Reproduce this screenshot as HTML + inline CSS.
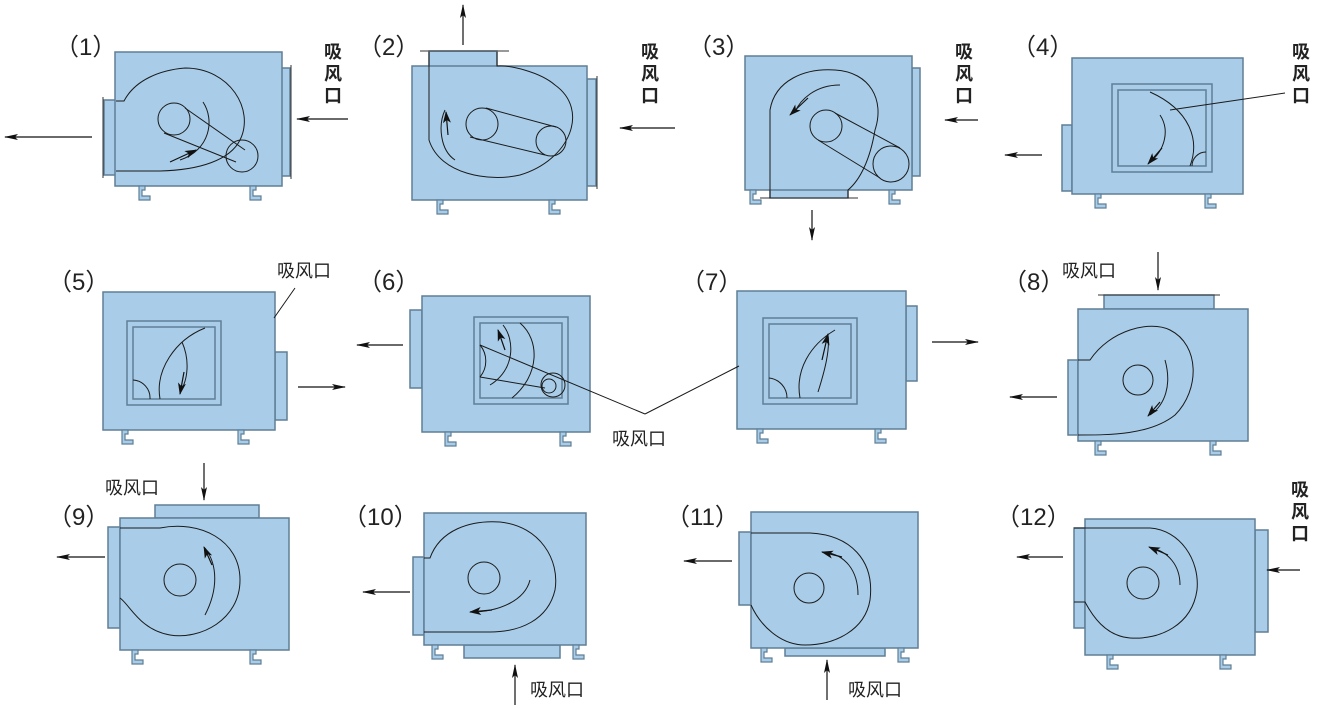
<!DOCTYPE html>
<html><head><meta charset="utf-8"><style>
html,body{margin:0;padding:0;background:#fff;width:1327px;height:709px;overflow:hidden}
svg{display:block}
.b{fill:#a9cde8;stroke:#5f7f96;stroke-width:1.5}
.l{fill:none;stroke:#1a1a1a;stroke-width:1}
.a{stroke:#111;stroke-width:1.2;fill:none;marker-end:url(#ah)}
.t{font-family:"Liberation Sans","Noto Sans CJK SC",sans-serif;font-size:24px;fill:#222}
.c{font-family:"Noto Sans CJK SC","WenQuanYi Zen Hei",sans-serif;font-size:18px;fill:#222;font-weight:bold}
.h{font-family:"Noto Sans CJK SC","WenQuanYi Zen Hei",sans-serif;font-size:18px;fill:#222}
</style></head><body>
<svg width="1327" height="709" viewBox="0 0 1327 709">
<defs>
<marker id="ah" markerWidth="14" markerHeight="8" refX="13" refY="4" orient="auto" markerUnits="userSpaceOnUse"><path d="M0,1 L14,4 L0,7 L3,4z" fill="#111"/></marker>
<marker id="sh" markerWidth="12" markerHeight="8" refX="11" refY="4" orient="auto" markerUnits="userSpaceOnUse"><path d="M0,0 L12,4 L0,8 L3,4z" fill="#111"/></marker>
<path id="ft" d="M0,0 h6 v4 h-3 v6 h8 v4 h-11z" fill="#a9cde8" stroke="#5f7f96" stroke-width="1.2"/>
</defs>

<!-- 1 -->
<text class="t" x="55" y="55">（1）</text>
<rect class="b" x="104" y="100" width="12" height="75"/><line x1="103" y1="97" x2="103" y2="178" stroke="#333"/>
<rect class="b" x="281" y="68" width="9" height="108"/><line x1="291" y1="65" x2="291" y2="179" stroke="#333"/>
<rect class="b" x="115" y="52" width="167" height="134"/>
<path class="l" d="M116,101 H124 C135,80 160,70 185,68 C230,68 255,110 240,140 C230,160 200,170 160,171 H116"/>
<path class="l" d="M203,102 C215,120 210,150 180,160" />
<line x1="170" y1="162" x2="196" y2="150" stroke="#111" stroke-width="1.2" marker-end="url(#sh)"/>
<circle class="l" cx="174" cy="119" r="16"/><circle class="l" cx="242" cy="156" r="16"/>
<line class="l" x1="185" y1="108" x2="245" y2="150"/><line class="l" x1="164" y1="133" x2="236" y2="162"/>
<use href="#ft" x="139" y="186"/><use href="#ft" x="250" y="186"/>
<line class="a" x1="92" y1="137" x2="5" y2="137"/>
<line class="a" x1="348" y1="119" x2="297" y2="119"/>
<text class="c" x="324" y="58">吸</text><text class="c" x="324" y="80">风</text><text class="c" x="324" y="102">口</text>

<!-- 2 -->
<text class="t" x="358" y="55">（2）</text>
<rect class="b" x="429" y="51" width="68" height="16"/><line x1="420" y1="51" x2="509" y2="51" stroke="#333"/>
<rect class="b" x="587" y="79" width="9" height="107"/><line x1="597" y1="76" x2="597" y2="189" stroke="#333"/>
<rect class="b" x="412" y="66" width="175" height="134"/>
<path class="l" d="M429,52 V140 C440,175 490,182 520,175 C570,160 590,110 555,85 C540,72 510,65 497,66 V52"/>
<path class="l" d="M455,160 C440,150 438,125 445,110"/>
<line x1="448" y1="135" x2="446" y2="112" stroke="#111" stroke-width="1.2" marker-end="url(#sh)"/>
<circle class="l" cx="482" cy="124" r="16"/><circle class="l" cx="551" cy="141" r="15"/>
<line class="l" x1="486" y1="108" x2="556" y2="127"/><line class="l" x1="470" y1="137" x2="545" y2="155"/>
<use href="#ft" x="437" y="200"/><use href="#ft" x="549" y="200"/>
<line class="a" x1="463" y1="45" x2="463" y2="5"/>
<line class="a" x1="675" y1="128" x2="620" y2="128"/>
<text class="c" x="641" y="58">吸</text><text class="c" x="641" y="80">风</text><text class="c" x="641" y="102">口</text>

<!-- 3 -->
<text class="t" x="688" y="55">（3）</text>
<rect class="b" x="770" y="189" width="78" height="9"/><line x1="760" y1="198" x2="858" y2="198" stroke="#333"/>
<rect class="b" x="912" y="68" width="8" height="108"/>
<rect class="b" x="745" y="56" width="167" height="134"/>
<path class="l" d="M770,198 V110 C775,80 805,68 835,70 C870,72 885,100 875,130 C870,160 860,180 848,190 V198"/>
<path class="l" d="M840,85 C815,85 800,100 795,112"/>
<line x1="808" y1="98" x2="790" y2="115" stroke="#111" stroke-width="1.2" marker-end="url(#sh)"/>
<circle class="l" cx="826" cy="126" r="16"/><circle class="l" cx="891" cy="164" r="18"/>
<line class="l" x1="835" y1="113" x2="900" y2="148"/><line class="l" x1="818" y1="140" x2="880" y2="178"/>
<use href="#ft" x="750" y="190"/><use href="#ft" x="889" y="190"/>
<line class="a" x1="812" y1="210" x2="812" y2="240"/>
<line class="a" x1="978" y1="120" x2="945" y2="120"/>
<text class="c" x="955" y="58">吸</text><text class="c" x="955" y="80">风</text><text class="c" x="955" y="102">口</text>

<!-- 4 -->
<text class="t" x="1012" y="55">（4）</text>
<rect class="b" x="1062" y="125" width="10" height="66"/>
<rect class="b" x="1072" y="58" width="171" height="136"/>
<rect class="b" x="1112" y="84" width="100" height="88"/><rect class="b" x="1118" y="90" width="88" height="76"/>
<path class="l" d="M1150,92 C1190,110 1200,140 1190,166"/><path class="l" d="M1160,115 C1170,130 1165,150 1150,162"/>
<line x1="1162" y1="148" x2="1148" y2="164" stroke="#111" stroke-width="1.2" marker-end="url(#sh)"/>
<path class="l" d="M1192,166 A14,14 0 0 1 1206,152"/>
<line class="l" x1="1285" y1="93" x2="1170" y2="110"/>
<use href="#ft" x="1095" y="194"/><use href="#ft" x="1205" y="194"/>
<line class="a" x1="1042" y1="155" x2="1005" y2="155"/>
<text class="c" x="1292" y="58">吸</text><text class="c" x="1292" y="80">风</text><text class="c" x="1292" y="102">口</text>

<!-- 5 -->
<text class="t" x="48" y="290">（5）</text>
<rect class="b" x="275" y="352" width="12" height="68"/>
<rect class="b" x="103" y="292" width="172" height="138"/>
<rect class="b" x="127" y="321" width="94" height="84"/><rect class="b" x="133" y="327" width="82" height="72"/>
<path class="l" d="M160,399 C155,370 175,340 205,328"/><path class="l" d="M182,342 C190,360 188,380 180,392"/>
<line x1="184" y1="372" x2="180" y2="394" stroke="#111" stroke-width="1.2" marker-end="url(#sh)"/>
<path class="l" d="M133,380 A18,18 0 0 1 150,399"/>
<line class="l" x1="295" y1="288" x2="274" y2="318"/>
<use href="#ft" x="122" y="430"/><use href="#ft" x="238" y="430"/>
<line class="a" x1="298" y1="387" x2="345" y2="387"/>
<text class="h" x="277" y="277">吸风口</text>

<!-- 6 -->
<text class="t" x="358" y="290">（6）</text>
<rect class="b" x="410" y="310" width="12" height="78"/>
<rect class="b" x="422" y="296" width="168" height="136"/>
<rect class="b" x="474" y="317" width="94" height="87"/><rect class="b" x="480" y="323" width="82" height="75"/>
<path class="l" d="M480,345 A25,25 0 0 1 480,377"/><path class="l" d="M490,385 C515,370 515,340 503,325"/><path class="l" d="M512,398 C540,375 540,340 520,323"/>
<line x1="505" y1="350" x2="498" y2="330" stroke="#111" stroke-width="1.2" marker-end="url(#sh)"/>
<circle class="l" cx="549" cy="386" r="7"/><circle class="l" cx="553" cy="385" r="12"/>
<line class="l" x1="480" y1="345" x2="645" y2="414"/><line class="l" x1="480" y1="377" x2="545" y2="388"/>
<use href="#ft" x="445" y="432"/><use href="#ft" x="560" y="432"/>
<line class="a" x1="403" y1="345" x2="357" y2="345"/>
<text class="h" x="612" y="445">吸风口</text>

<!-- 7 -->
<text class="t" x="681" y="290">（7）</text>
<rect class="b" x="906" y="306" width="11" height="75"/>
<rect class="b" x="737" y="291" width="169" height="138"/>
<rect class="b" x="763" y="318" width="94" height="86"/><rect class="b" x="769" y="324" width="82" height="74"/>
<path class="l" d="M800,398 C795,370 810,345 835,330"/><path class="l" d="M818,392 C825,370 830,350 828,335"/>
<line x1="822" y1="360" x2="828" y2="334" stroke="#111" stroke-width="1.2" marker-end="url(#sh)"/>
<path class="l" d="M769,378 A20,20 0 0 1 787,398"/>
<line class="l" x1="645" y1="414" x2="739" y2="366"/>
<use href="#ft" x="757" y="429"/><use href="#ft" x="875" y="429"/>
<line class="a" x1="932" y1="342" x2="978" y2="342"/>

<!-- 8 -->
<text class="t" x="1003" y="290">（8）</text>
<rect class="b" x="1104" y="295" width="110" height="14"/><line x1="1098" y1="295" x2="1220" y2="295" stroke="#333"/>
<rect class="b" x="1068" y="360" width="10" height="75"/>
<rect class="b" x="1078" y="309" width="170" height="132"/>
<path class="l" d="M1078,360 H1090 C1110,330 1150,320 1170,330 C1200,345 1200,390 1175,415 C1150,435 1110,435 1078,435"/>
<circle class="l" cx="1138" cy="380" r="15"/>
<path class="l" d="M1165,360 C1172,385 1165,405 1150,415"/>
<line x1="1160" y1="402" x2="1148" y2="416" stroke="#111" stroke-width="1.2" marker-end="url(#sh)"/>
<use href="#ft" x="1095" y="441"/><use href="#ft" x="1210" y="441"/>
<line class="a" x1="1158" y1="252" x2="1158" y2="290"/>
<line class="a" x1="1057" y1="397" x2="1010" y2="397"/>
<text class="h" x="1062" y="277">吸风口</text>

<!-- 9 -->
<text class="t" x="48" y="525">（9）</text>
<rect class="b" x="155" y="505" width="104" height="13"/>
<rect class="b" x="108" y="527" width="12" height="101"/>
<rect class="b" x="120" y="518" width="169" height="132"/>
<path class="l" d="M120,528 H160 C200,520 240,540 240,580 C240,620 200,640 170,635 C140,630 130,605 120,598"/>
<circle class="l" cx="180" cy="580" r="16"/>
<path class="l" d="M205,615 C218,590 218,565 205,548"/>
<line x1="212" y1="565" x2="204" y2="547" stroke="#111" stroke-width="1.2" marker-end="url(#sh)"/>
<use href="#ft" x="132" y="650"/><use href="#ft" x="250" y="650"/>
<line class="a" x1="204" y1="463" x2="204" y2="500"/>
<line class="a" x1="105" y1="557" x2="57" y2="557"/>
<text class="h" x="105" y="494">吸风口</text>

<!-- 10 -->
<text class="t" x="343" y="525">（10）</text>
<rect class="b" x="413" y="557" width="11" height="78"/>
<rect class="b" x="464" y="645" width="96" height="13"/>
<rect class="b" x="424" y="513" width="162" height="132"/>
<path class="l" d="M424,558 H430 C440,530 470,520 500,522 C540,526 560,560 555,590 C548,620 520,632 490,632 H424"/>
<circle class="l" cx="484" cy="578" r="16"/>
<path class="l" d="M470,612 C500,612 525,600 530,580"/>
<line x1="492" y1="610" x2="470" y2="612" stroke="#111" stroke-width="1.2" marker-end="url(#sh)"/>
<use href="#ft" x="432" y="645"/><use href="#ft" x="573" y="645"/>
<line class="a" x1="515" y1="705" x2="515" y2="665"/>
<line class="a" x1="410" y1="592" x2="363" y2="592"/>
<text class="h" x="530" y="696">吸风口</text>

<!-- 11 -->
<text class="t" x="666" y="525">（11）</text>
<rect class="b" x="739" y="532" width="12" height="73"/>
<rect class="b" x="785" y="648" width="100" height="8"/>
<rect class="b" x="751" y="512" width="167" height="136"/>
<path class="l" d="M751,533 H810 C850,535 875,560 870,600 C865,630 835,645 805,645 C780,645 760,625 751,605"/>
<circle class="l" cx="809" cy="588" r="15"/>
<path class="l" d="M858,595 C858,570 845,555 825,552"/>
<line x1="842" y1="557" x2="822" y2="552" stroke="#111" stroke-width="1.2" marker-end="url(#sh)"/>
<use href="#ft" x="761" y="648"/><use href="#ft" x="898" y="648"/>
<line class="a" x1="827" y1="700" x2="827" y2="660"/>
<line class="a" x1="732" y1="561" x2="684" y2="561"/>
<text class="h" x="848" y="696">吸风口</text>

<!-- 12 -->
<text class="t" x="996" y="525">（12）</text>
<rect class="b" x="1074" y="528" width="11" height="100"/>
<rect class="b" x="1255" y="530" width="13" height="102"/>
<rect class="b" x="1085" y="519" width="170" height="136"/>
<path class="l" d="M1074,528 H1150 C1180,530 1200,560 1197,590 C1192,625 1160,640 1130,638 C1105,636 1092,615 1085,602 H1074"/>
<circle class="l" cx="1143" cy="583" r="16"/>
<path class="l" d="M1180,585 C1180,565 1168,552 1152,548"/>
<line x1="1168" y1="555" x2="1149" y2="547" stroke="#111" stroke-width="1.2" marker-end="url(#sh)"/>
<use href="#ft" x="1107" y="655"/><use href="#ft" x="1220" y="655"/>
<line class="a" x1="1063" y1="557" x2="1017" y2="557"/>
<line class="a" x1="1300" y1="570" x2="1267" y2="570"/>
<text class="c" x="1291" y="496">吸</text><text class="c" x="1291" y="518">风</text><text class="c" x="1291" y="540">口</text>
</svg>
</body></html>
